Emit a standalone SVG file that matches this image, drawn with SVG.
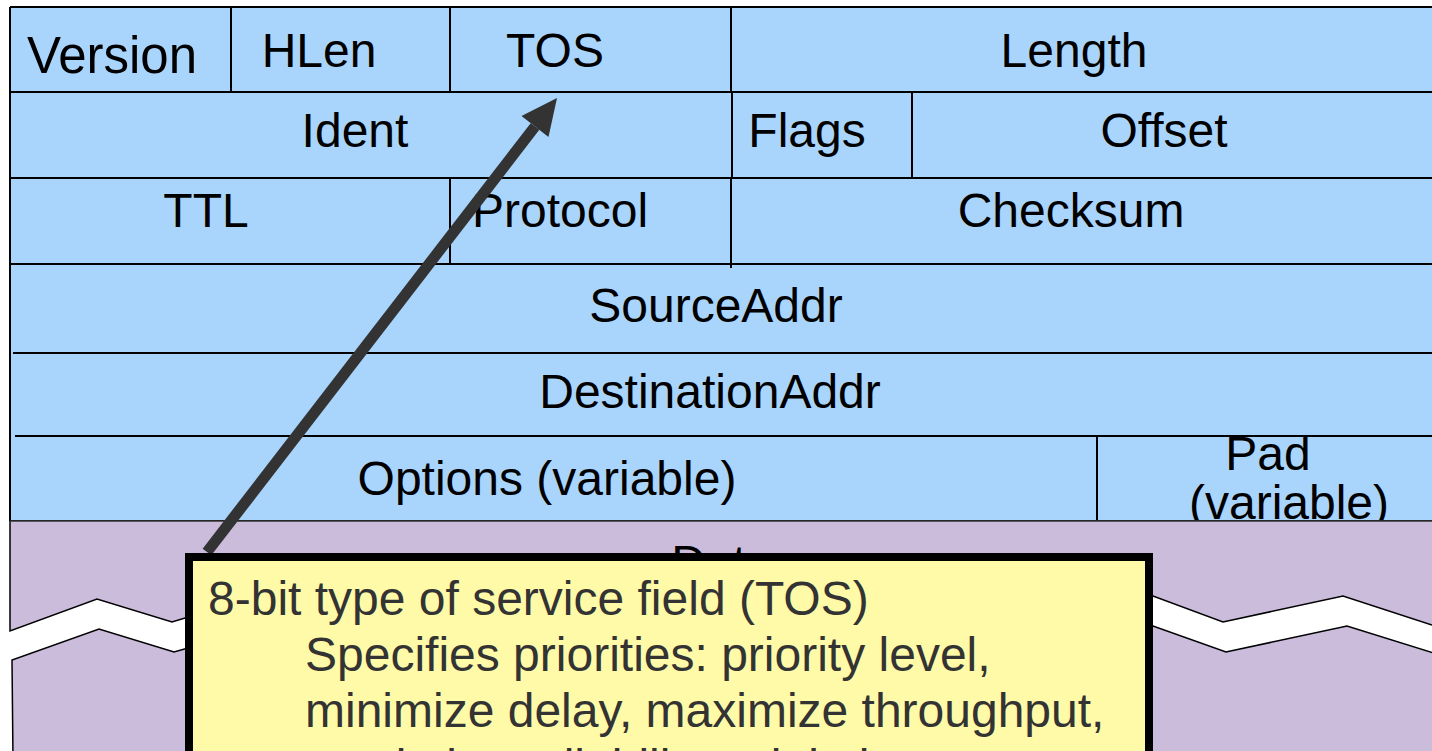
<svg xmlns="http://www.w3.org/2000/svg" width="1432" height="751" viewBox="0 0 1432 751">
<style>
.lbl{font-family:"Liberation Sans",Arial,sans-serif;font-size:48px;fill:#000;text-anchor:middle}
.grid{stroke:#000;stroke-width:2;fill:none}
.note{font-family:"Liberation Sans",Arial,sans-serif;font-size:48px;fill:#333}
.edge{stroke:#000;stroke-width:1.5;fill:#cbbcdc}
</style>
<rect x="0" y="0" width="1432" height="751" fill="#fff"/>
<g id="header">
<rect x="10" y="7" width="1430" height="514" fill="#a9d5fd"/>
<g class="grid">
<path d="M10 7H1432M10 7V521M10 92H1432M10 178H1432M10 264H1432M13 353H1432M15 436H1432M10 521H1432"/>
<path d="M231 7V92M450 7V92M731 7V92M732 92V178M912 92V178M450 178V264M731 178V268M1097 436V521"/>
</g>
</g>
<g id="n-version"><text class="lbl" x="112" y="73" font-size="51" style="font-size:51px">Version</text></g>
<g id="n-hlen"><text class="lbl" x="319" y="67">HLen</text></g>
<g id="n-tos"><text class="lbl" x="555" y="67">TOS</text></g>
<g id="n-length"><text class="lbl" x="1074" y="67">Length</text></g>
<g id="n-ident"><text class="lbl" x="355" y="147">Ident</text></g>
<g id="n-flags"><text class="lbl" x="807" y="147">Flags</text></g>
<g id="n-offset"><text class="lbl" x="1164" y="147">Offset</text></g>
<g id="n-ttl"><text class="lbl" x="206" y="227">TTL</text></g>
<g id="n-protocol"><text class="lbl" x="560" y="227">Protocol</text></g>
<g id="n-checksum"><text class="lbl" x="1071" y="227">Checksum</text></g>
<g id="n-source"><text class="lbl" x="716" y="322">SourceAddr</text></g>
<g id="n-dest"><text class="lbl" x="710" y="408">DestinationAddr</text></g>
<g id="n-options"><text class="lbl" x="547" y="495">Options (variable)</text></g>
<g id="n-pad"><text class="lbl" x="1268" y="470">Pad</text><text class="lbl" x="1289" y="519">(variable)</text></g>
<g id="n-data">
<path d="M10 521H1432V625L1343 596L1223 622L1153 596L185 618L172 622L97 599L10 631Z" fill="#cbbcdc"/>
<path d="M10 521V631L97 599L172 622L185 618L1153 596L1223 622L1343 596L1432 625" fill="none" stroke="#000" stroke-width="1.5"/>
<path d="M10 521H1432" stroke="#333" stroke-width="1.5"/>
<path class="edge" d="M1440 655L1347 626L1226 652L1153 626L188 648L174 652L99 629L12 660L13 760H1440Z"/>
<text class="lbl" x="722" y="579">Data</text>
</g>
<g id="connectors">
<path d="M207 552L535 126.5" stroke="#333" stroke-width="11" fill="none"/>
<path d="M557 98L521.5 116L535 126.5L548.5 137Z" fill="#333"/>
</g>
<g id="n-note">
<rect x="189" y="557" width="960" height="260" fill="#fffaa8" stroke="#000" stroke-width="8"/>
<text class="note" x="208" y="615">8-bit type of service field (TOS)</text>
<text class="note" x="305" y="671">Specifies priorities: priority level,</text>
<text class="note" x="305" y="727">minimize delay, maximize throughput,</text>
<text class="note" x="305" y="783">maximize reliability, minimize cost</text>
</g>
</svg>
